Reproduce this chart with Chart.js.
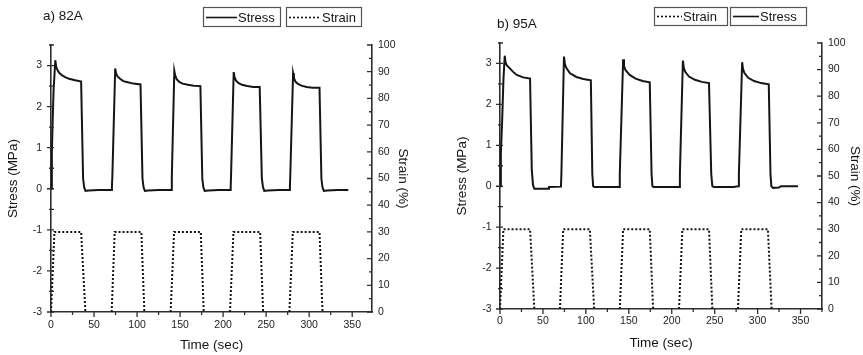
<!DOCTYPE html>
<html>
<head>
<meta charset="utf-8">
<script src="https://cdn.jsdelivr.net/npm/chart.js@4.4.0/dist/chart.umd.min.js"></script>
<style>
  body { margin: 0; background: #fff; }
  #wrap { position: relative; width: 863px; height: 355px; }
  canvas { position: absolute; top: 0; }
  #chartA { left: 0; }
  #chartB { left: 431px; }
</style>
</head>
<body>
<div id="wrap">
  <canvas id="chartA" width="431" height="355"></canvas>
  <canvas id="chartB" width="432" height="355"></canvas>
</div>
<script>
// tick labels
const timeTicks = [0, 50, 100, 150, 200, 250, 300, 350];
const stressTicks = [-3, -2, -1, 0, 1, 2, 3];
const strainTicks = [0, 10, 20, 30, 40, 50, 60, 70, 80, 90, 100];

// panel a) 82A - stress (MPa) vs time (sec)
const stressTimeA = [0, 1, 2, 3, 5, 6, 7.5, 10, 13, 17, 21, 28, 35, 37.3, 38.5, 40, 44, 55, 70,
  70.8, 71.3, 74.6, 75.6, 77.5, 80.6, 84, 88, 95.7, 104, 106.3, 107.5, 109, 113, 125, 139.5,
  140.2, 140.6, 143.3, 144.3, 146, 149, 153, 159, 166, 173.6, 175.8, 177, 178.5, 183, 195, 208.3,
  208.8, 209.2, 212.3, 213.3, 215, 218, 222, 228, 235, 242.5, 245, 246.3, 247.8, 252, 265, 277,
  277.6, 278, 281.3, 282.3, 284, 287, 291, 297, 304, 312, 314.2, 315.4, 317, 321, 333, 345.5];
const stressValA = [0, 0.9, 1.7, 2.4, 3.13, 2.97, 2.89, 2.81, 2.76, 2.71, 2.68, 2.64, 2.61, 0.25, 0.04, -0.05, -0.04, -0.03, -0.03,
  0.05, 0.3, 2.93, 2.81, 2.73, 2.67, 2.62, 2.6, 2.56, 2.54, 0.25, 0.04, -0.05, -0.04, -0.03, -0.03,
  0.05, 0.3, 2.87, 2.76, 2.67, 2.6, 2.56, 2.53, 2.51, 2.5, 0.25, 0.04, -0.05, -0.04, -0.03, -0.03,
  0.05, 0.3, 2.84, 2.72, 2.63, 2.57, 2.53, 2.5, 2.48, 2.48, 0.25, 0.04, -0.05, -0.04, -0.03, -0.03,
  0.05, 0.3, 2.81, 2.7, 2.61, 2.55, 2.51, 2.48, 2.46, 2.46, 0.25, 0.04, -0.05, -0.04, -0.03, -0.03];

// panel a) 82A - strain (%) vs time (sec), null = line break
const strainTimeA = [0, 4, 35, 40, 55, 70.5, 74, 105, 108.5, 125, 139, 143, 174, 177.5, 195,
  208, 212, 243, 246.5, 265, 277, 281, 312, 315.5];
const strainValA = [0, 30, 30, 0, null, 0, 30, 30, 0, null, 0, 30, 30, 0, null,
  0, 30, 30, 0, null, 0, 30, 30, 0];

// panel b) 95A - stress (MPa) vs time (sec)
const stressTimeB = [0, 1, 2.5, 4, 5.5, 6.5, 8, 11.5, 15, 19.5, 27, 35, 37, 38.5, 40, 56, 57, 71,
  71.5, 74.5, 75.5, 77, 81.5, 89, 97, 105.8, 107.5, 108.5, 110, 139,
  139.5, 143.4, 144.4, 146, 151, 158, 166, 174.4, 176.5, 177.5, 179, 209,
  209.5, 213, 214, 215.5, 220, 227, 235, 243.4, 246, 247.3, 249, 272, 277.5,
  278.2, 282, 283, 284.5, 289, 296, 304, 313, 315, 316, 318, 325, 327, 347];
const stressValB = [0, 0.8, 1.6, 2.6, 3.19, 3.02, 2.95, 2.88, 2.8, 2.72, 2.66, 2.63, 0.4, 0.02, -0.06, -0.06, -0.02, -0.01,
  0.3, 3.17, 3.0, 2.9, 2.76, 2.67, 2.62, 2.59, 0.3, 0.0, -0.02, -0.02,
  0.3, 3.1, 2.94, 2.84, 2.72, 2.63, 2.57, 2.54, 0.3, 0.0, -0.02, -0.02,
  0.3, 3.07, 2.9, 2.8, 2.68, 2.6, 2.55, 2.52, 0.3, 0.0, -0.02, -0.02, 0.0,
  0.3, 3.03, 2.87, 2.77, 2.65, 2.57, 2.52, 2.49, 0.3, 0.0, -0.04, -0.03, 0.0, 0.0];

// panel b) 95A - strain (%) vs time (sec)
const strainTimeB = [0, 4, 35, 40, 55, 69.8, 73.6, 104.6, 109.7, 125, 139.5, 143.4, 174.4, 178.3, 195,
  208.5, 212.4, 243.4, 247.3, 265, 277.1, 281, 312, 316.3];
const strainValB = [0, 30, 30, 0, null, 0, 30, 30, 0, null, 0, 30, 30, 0, null,
  0, 30, 30, 0, null, 0, 30, 30, 0];

const INK = '#151515';
const AXIS = '#2e2e2e';
const FONT = '"Liberation Sans", Arial, sans-serif';

function pts(ts, vs) {
  return ts.map((t, i) => ({ x: t, y: vs[i] }));
}

// title, legend boxes and minor/major tick marks
function decorPlugin(d) {
  return {
    id: 'decor',
    afterDraw(chart) {
      const ctx = chart.ctx;
      const { x, y, y1 } = chart.scales;
      ctx.save();
      ctx.strokeStyle = AXIS;
      ctx.lineWidth = 1.3;
      ctx.beginPath();
      const tStep = timeTicks[1] - timeTicks[0];
      timeTicks.forEach(v => {
        const p = x.getPixelForValue(v);
        ctx.moveTo(p, x.top); ctx.lineTo(p, x.top + 5);
        if (v + tStep / 2 <= x.max) {
          const m = x.getPixelForValue(v + tStep / 2);
          ctx.moveTo(m, x.top); ctx.lineTo(m, x.top + 3);
        }
      });
      const sStep = stressTicks[1] - stressTicks[0];
      stressTicks.forEach(v => {
        const p = y.getPixelForValue(v);
        ctx.moveTo(y.right - 4, p); ctx.lineTo(y.right + 3, p);
        if (v + sStep / 2 <= y.max) {
          const m = y.getPixelForValue(v + sStep / 2);
          ctx.moveTo(y.right - 2, m); ctx.lineTo(y.right + 3, m);
        }
      });
      const eStep = strainTicks[1] - strainTicks[0];
      strainTicks.forEach(v => {
        const p = y1.getPixelForValue(v);
        ctx.moveTo(y1.left - 5, p); ctx.lineTo(y1.left, p);
        if (v + eStep / 2 <= y1.max) {
          const m = y1.getPixelForValue(v + eStep / 2);
          ctx.moveTo(y1.left - 3, m); ctx.lineTo(y1.left, m);
        }
      });
      ctx.stroke();

      // panel title
      ctx.fillStyle = INK;
      ctx.font = '13.5px ' + FONT;
      ctx.textBaseline = 'middle';
      ctx.textAlign = 'left';
      ctx.fillText(d.title, d.titleX, d.titleY);

      // legend boxes
      d.legend.forEach(item => {
        const ds = chart.data.datasets[item.ds];
        ctx.strokeStyle = '#555';
        ctx.lineWidth = 1.2;
        ctx.setLineDash([]);
        ctx.strokeRect(item.x + 0.5, item.y + 0.5, item.w, item.h);
        const cy = Math.round(item.y + item.h / 2) + 0.5;
        ctx.strokeStyle = ds.borderColor;
        ctx.lineWidth = 1.6;
        ctx.setLineDash(ds.borderDash || []);
        ctx.beginPath();
        ctx.moveTo(item.x + 3, cy);
        ctx.lineTo(item.x + 3 + item.sample, cy);
        ctx.stroke();
        ctx.setLineDash([]);
        ctx.fillStyle = INK;
        ctx.font = '13px ' + FONT;
        ctx.fillText(ds.label, item.x + 4 + item.sample, cy + 0.5);
      });
      ctx.restore();
    }
  };
}

function makeChart(id, d) {
  const tickFont = { family: FONT, size: 10.5 };
  const titleFont = { family: FONT, size: 13.5 };
  return new Chart(document.getElementById(id), {
    type: 'line',
    data: {
      datasets: [
        {
          label: 'Stress',
          data: pts(d.stressT, d.stress),
          yAxisID: 'y',
          borderColor: INK,
          borderWidth: 2,
          pointRadius: 0,
          tension: 0
        },
        {
          label: 'Strain',
          data: pts(d.strainT, d.strain),
          yAxisID: 'y1',
          borderColor: INK,
          borderWidth: 2,
          borderDash: [2, 2],
          pointRadius: 0,
          tension: 0
        }
      ]
    },
    options: {
      responsive: false,
      animation: false,
      devicePixelRatio: 1,
      layout: { padding: { top: d.top, left: 0, right: 0, bottom: 0 } },
      plugins: { legend: { display: false }, tooltip: { enabled: false } },
      scales: {
        x: {
          type: 'linear',
          min: 0,
          max: d.xMax,
          afterBuildTicks: s => { s.ticks = timeTicks.map(v => ({ value: v })); },
          afterFit: s => { s.height = d.xH; },
          grid: { display: false, drawTicks: false },
          border: { display: true, color: AXIS, width: 1.6 },
          ticks: { font: tickFont, color: '#222', padding: d.xTickPad, maxRotation: 0, autoSkip: false },
          title: { display: true, text: 'Time (sec)', font: titleFont, color: INK, padding: { top: 0, bottom: d.xTitlePad } }
        },
        y: {
          type: 'linear',
          position: 'left',
          min: -3,
          max: 3.5,
          afterBuildTicks: s => { s.ticks = stressTicks.map(v => ({ value: v })); },
          afterFit: s => { s.width = d.yW; },
          grid: { display: false, drawTicks: false },
          border: { display: true, color: AXIS, width: 1.6 },
          ticks: { font: tickFont, color: '#222', padding: d.yTickPad, autoSkip: false },
          title: { display: true, text: 'Stress (MPa)', font: titleFont, color: INK, padding: { top: d.yTitlePad, bottom: 0 } }
        },
        y1: {
          type: 'linear',
          position: 'right',
          min: 0,
          max: 100,
          afterBuildTicks: s => { s.ticks = strainTicks.map(v => ({ value: v })); },
          afterFit: s => { s.width = d.y1W; },
          grid: { display: false, drawTicks: false },
          border: { display: true, color: AXIS, width: 1.6 },
          ticks: { font: tickFont, color: '#222', padding: 6, autoSkip: false },
          title: { display: true, text: 'Strain (%)', font: titleFont, color: INK, padding: { top: d.y1TitlePad, bottom: 0 } }
        }
      }
    },
    plugins: [decorPlugin(d)]
  });
}

makeChart('chartA', {
  stressT: stressTimeA, stress: stressValA, strainT: strainTimeA, strain: strainValA,
  xMax: 373, top: 45, xH: 43, yW: 51, y1W: 59,
  xTickPad: 6.4, xTitlePad: 2, yTickPad: 9, yTitlePad: 5, y1TitlePad: 20,
  title: 'a) 82A', titleX: 43, titleY: 16.5,
  legend: [
    { ds: 0, x: 203, y: 7, w: 77, h: 19, sample: 31 },
    { ds: 1, x: 286, y: 7, w: 75, h: 19, sample: 32 }
  ]
});

makeChart('chartB', {
  stressT: stressTimeB, stress: stressValB, strainT: strainTimeB, strain: strainValB,
  xMax: 375, top: 43, xH: 46, yW: 69, y1W: 41,
  xTickPad: 6, xTitlePad: 4, yTickPad: 8.5, yTitlePad: 23, y1TitlePad: 0.5,
  title: 'b) 95A', titleX: 66, titleY: 24,
  legend: [
    { ds: 1, x: 223, y: 7, w: 73, h: 18, sample: 25 },
    { ds: 0, x: 299, y: 7, w: 76, h: 18, sample: 26 }
  ]
});
</script>
</body>
</html>
